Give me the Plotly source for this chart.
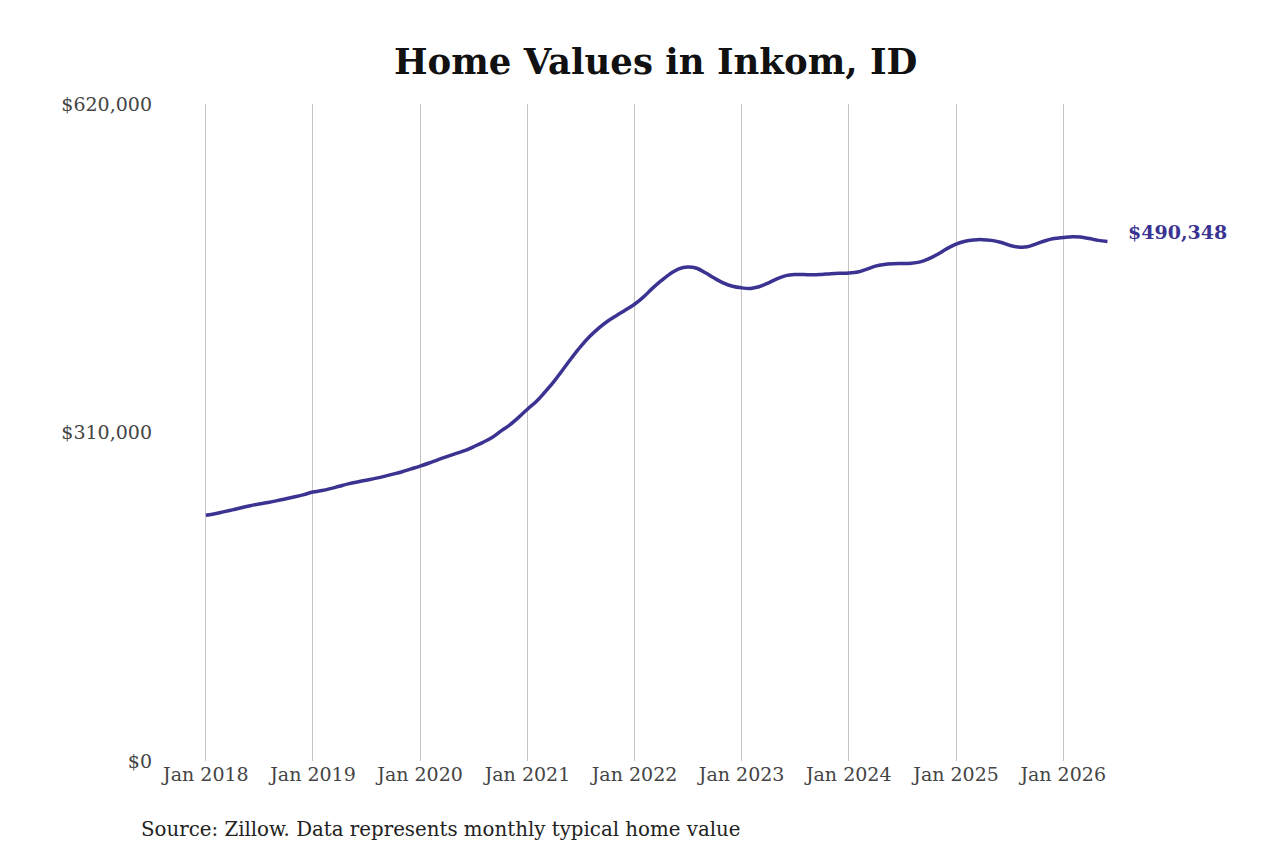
import pandas as pd
import plotly.graph_objects as go

# monthly typical home value, Jan 2018 - Jun 2026
values_2018 = [232000, 233400, 235100, 237000, 239000, 240900, 242500, 244000, 245700, 247500, 249400, 251400]
values_2019 = [253800, 255200, 257000, 259300, 261500, 263300, 265000, 266700, 268600, 270700, 273000, 275600]
values_2020 = [278300, 281200, 284200, 287200, 290000, 292800, 296500, 300500, 305000, 311000, 317000, 324000]
values_2021 = [332000, 339500, 348000, 358000, 369000, 380500, 391000, 400500, 408500, 415000, 420500, 425500]
values_2022 = [431000, 438000, 445500, 453000, 459500, 464500, 466200, 465000, 460500, 455500, 451000, 448000]
values_2023 = [446500, 446000, 447500, 451000, 455000, 458000, 459000, 459000, 458800, 459200, 459800, 460200]
values_2024 = [460500, 461500, 464000, 467000, 468500, 469200, 469500, 469800, 471000, 474000, 478500, 483500]
values_2025 = [487800, 490500, 491700, 492000, 491300, 489500, 486800, 485000, 485200, 488000, 491000, 493000]
values_2026 = [494000, 494800, 494500, 493000, 491300, 490348]

values = (values_2018 + values_2019 + values_2020 + values_2021 + values_2022
          + values_2023 + values_2024 + values_2025 + values_2026)
dates = pd.date_range("2018-01-01", periods=len(values), freq="MS")

tick_dates = pd.date_range("2018-01-01", "2026-01-01", freq="YS")
tick_labels = ["Jan %d" % d.year for d in tick_dates]
y_ticks = [0, 310000, 620000]
y_labels = ["$0", "$310,000", "$620,000"]

line_color = "#3b3391"
serif = "DejaVu Serif"

fig = go.Figure()
fig.add_trace(go.Scatter(x=dates, y=values, mode="lines",
                         line=dict(color=line_color, width=3.5, shape="spline"),
                         hoverinfo="x+y"))

# label at the end of the line
fig.add_annotation(x=dates[-1], y=values[-1], text="<b>$%s</b>" % format(values[-1], ","),
                   showarrow=False, xanchor="left", yanchor="middle", xshift=19, yshift=9,
                   font=dict(family=serif, size=19, color=line_color))

fig.add_annotation(text="Source: Zillow. Data represents monthly typical home value",
                   xref="paper", yref="paper", x=-0.0235, y=-0.105, xanchor="left", yanchor="middle",
                   showarrow=False, font=dict(family=serif, size=19.8, color="#222222"))

fig.update_layout(
    width=1280, height=853,
    margin=dict(l=153, r=177, t=96, b=100),
    plot_bgcolor="white", paper_bgcolor="white",
    showlegend=False,
    title=dict(text="<b>Home Values in Inkom, ID</b>", x=0.506, xanchor="center", y=0.937, yanchor="middle",
               font=dict(family=serif, size=35.5, color="#111111")),
    xaxis=dict(range=["2017-08-01", "2026-06-13"], tickvals=tick_dates, ticktext=tick_labels,
               showgrid=True, gridcolor="#c4c4c4", gridwidth=1, zeroline=False, showline=False,
               ticks="", tickfont=dict(family=serif, size=19, color="#444444")),
    yaxis=dict(range=[0, 620000], tickvals=y_ticks, ticktext=y_labels,
               showgrid=False, zeroline=False, showline=False, ticks="", ticklabelstandoff=8,
               tickfont=dict(family=serif, size=19, color="#444444")),
)

fig.write_html("out.html")
